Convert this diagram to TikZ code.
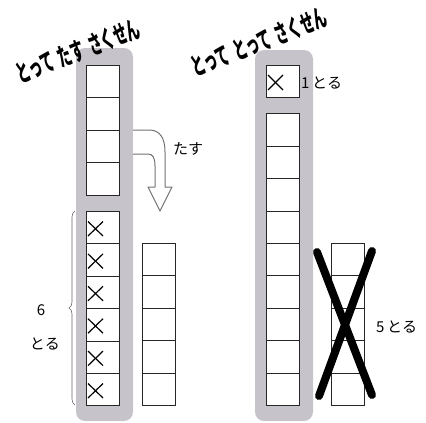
\documentclass[tikz,border=0pt]{standalone}
\usepackage{fontspec}
\usepackage{graphicx}
\setmainfont{Noto Sans CJK JP}
\usetikzlibrary{decorations.pathreplacing,calc}
\definecolor{colgray}{RGB}{198,196,202}
\tikzset{
  cell/.style={draw=black!85, line width=0.8pt, minimum width=32.5pt, minimum height=32.4pt, inner sep=0pt, anchor=north west, fill=white},
  column/.style={fill=colgray, rounded corners=9pt},
  xmark/.style={line width=1.2pt, black},
  title/.style={font=\fontsize{25}{25}\selectfont\bfseries, rotate=21, inner sep=0pt},
  lbl/.style={font=\fontsize{15}{15}\selectfont, inner sep=0pt},
  bigx/.style={line width=8pt, line cap=round, black},
  bentarrow/.style={draw=black!55, line width=1pt, fill=white, line join=round}
}
\newcommand{\narrow}[1]{\scalebox{0.54}[1]{#1}}
\begin{document}
\begin{tikzpicture}[x=1pt,y=-1pt]
\useasboundingbox (0,0) rectangle (426,423);
% gray columns
\fill[column] (76,48) rectangle (133,421);
\fill[column] (255,50) rectangle (313,421);
% titles
\node[title] (t1) at (78,51) {\narrow{とって\hspace{10pt}たす\hspace{10pt}さくせん}};
\node[title] (t2) at (259,42) {\narrow{とって\hspace{10pt}とって\hspace{10pt}さくせん}};
% left column upper cells
\foreach \i in {0,...,3} {
  \node[cell] (lu\i) at (86,{65+32.4*\i}) {};
}
% left column crossed cells
\foreach \i in {0,...,5} {
  \node[cell] (lx\i) at (86,{211+32.4*\i}) {};
  \draw[xmark] ($(lx\i.north west)+(2,10.5)$) -- ($(lx\i.north west)+(17,25)$);
  \draw[xmark] ($(lx\i.north west)+(17,10.5)$) -- ($(lx\i.north west)+(2,25)$);
}
% left side cells
\foreach \i in {0,...,4} {
  \node[cell] (ls\i) at (142,{243+32.4*\i}) {};
}
% brace
\draw[decorate, decoration={brace, amplitude=6pt}, draw=black!60, line width=0.6pt] (75,405) -- (75,211) node[midway] (br) {};
\node[lbl] (six) at (41,310) {6};
\node[lbl] (toru6) at (45,344) {とる};
% bent arrow
\draw[bentarrow] (133,130) -- (149,130) .. controls (160,130) and (165,138) .. (165,152) -- (165,187) -- (172,187) -- (160,211) -- (148,187) -- (155,187) -- (155,166) .. controls (155,158) and (153,154) .. (148,154) -- (133,154);
\node[lbl] (tasu) at (188,149) {たす};
% right column
\node[cell] (r0) at (266,65) {};
\draw[xmark] ($(r0.north west)+(2,10)$) -- ($(r0.north west)+(17,25)$);
\draw[xmark] ($(r0.north west)+(17,10)$) -- ($(r0.north west)+(2,25)$);
\node[lbl, anchor=west] (toru1) at (301,83) {1\,とる};
\foreach \i in {0,...,8} {
  \node[cell] (rc\i) at (266,{113.3+32.4*\i}) {};
}
% right side cells
\foreach \i in {0,...,4} {
  \node[cell] (rs\i) at (331,{243+32.4*\i}) {};
}
% big cross
\draw[bigx] (317,252) -- (372,395);
\draw[bigx] (372,251) -- (319,396);
\node[lbl, anchor=west] (toru5) at (376,327) {5\,とる};
\end{tikzpicture}
\end{document}
